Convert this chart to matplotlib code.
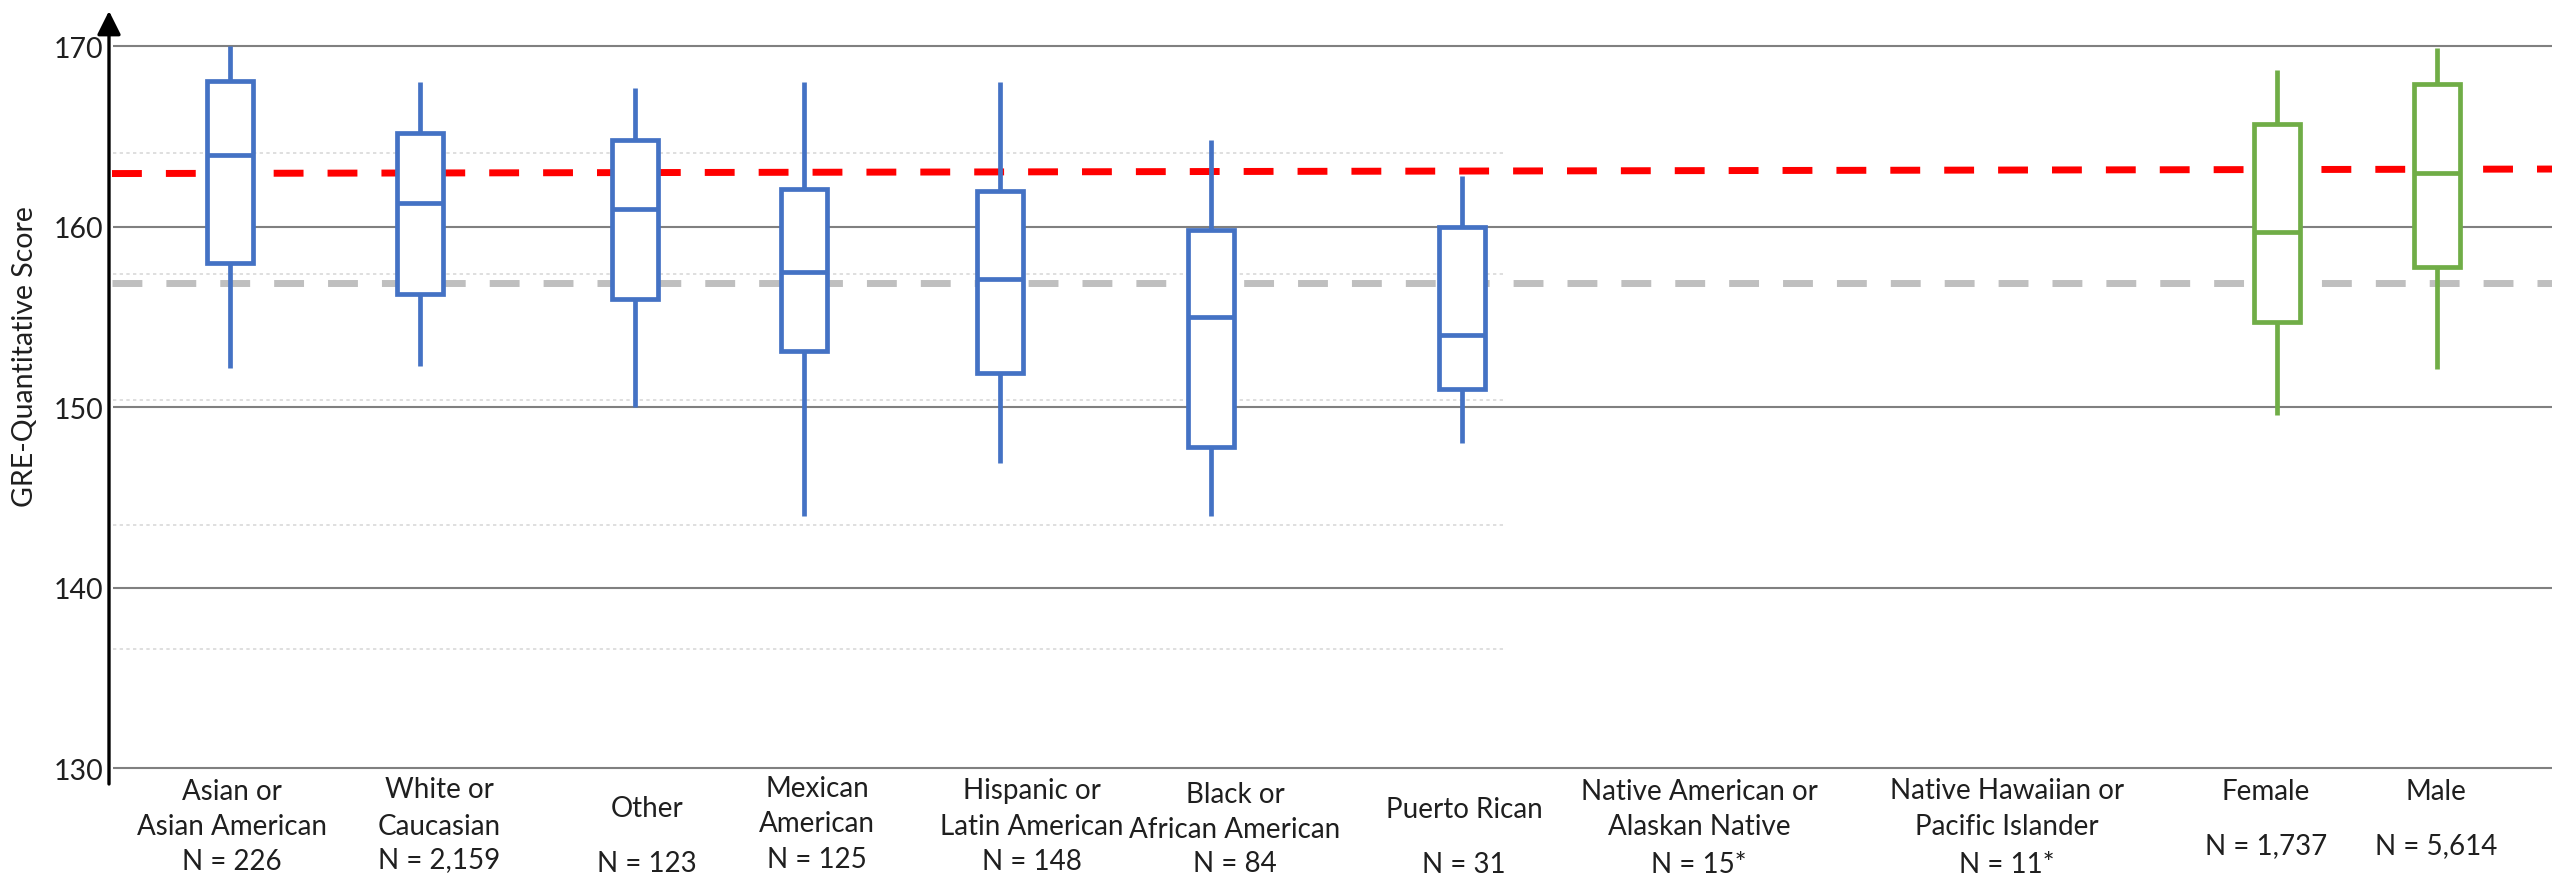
import matplotlib.pyplot as plt

# box plot values
groups = ["Asian", "White", "Other", "Mexican", "Hispanic", "Black",
          "Puerto Rican", "Female", "Male"]
whislo = [152.2, 152.3, 150.0, 144.0, 146.9, 144.0, 148.0, 149.6, 152.1]
q1 = [158.0, 156.3, 156.0, 153.1, 151.9, 147.8, 151.0, 154.7, 157.8]
med = [164.0, 161.3, 161.0, 157.5, 157.1, 155.0, 154.0, 159.7, 163.0]
q3 = [168.1, 165.2, 164.8, 162.1, 162.0, 159.8, 160.0, 165.7, 167.9]
whishi = [170.0, 168.0, 167.7, 168.0, 168.0, 164.8, 162.8, 168.7, 169.9]

# category labels (lines) under the axis
label_lines = [
    ["Asian or", "Asian American", "N = 226"],
    ["White or", "Caucasian", "N = 2,159"],
    ["Other", "N = 123"],
    ["Mexican", "American", "N = 125"],
    ["Hispanic or", "Latin American", "N = 148"],
    ["Black or", "African American", "N = 84"],
    ["Puerto Rican", "N = 31"],
    ["Native American or", "Alaskan Native", "N = 15*"],
    ["Native Hawaiian or", "Pacific Islander", "N = 11*"],
    ["Female", "N = 1,737"],
    ["Male", "N = 5,614"],
]

red_ref = [162.95, 163.2]   # red dashed reference, left / right end
grey_ref = 156.9
grid_major = [130, 140, 150, 160, 170]
grid_minor = [136.6, 143.5, 150.4, 157.4, 164.1]

# layout (pixel positions in the 2552x879 image)
W, H = 2552, 879
box_x = [230, 420, 635, 804, 1000, 1211, 1462, 2277, 2437]
box_colors = ["#4472C4"] * 7 + ["#70AD47"] * 2
label_x = [232, 439, 647, 817, 1032, 1235, 1464, 1699, 2007, 2266, 2436]
label_base = [
    [800, 835, 870], [798, 835, 868], [817, 872], [797, 832, 868],
    [799, 835, 870], [803, 838, 872], [818, 873], [800, 835, 873],
    [799, 835, 873], [800, 854], [800, 854],
]
text_color = '#1f1f1f'

plt.rcParams['font.family'] = ['Lato', 'DejaVu Sans']

fig = plt.figure(figsize=(W / 100, H / 100), dpi=100)
x0, ytop, ybot = 109, 12, 785
ax = fig.add_axes([x0 / W, (H - ybot) / H, 1 - x0 / W, (ybot - ytop) / H])
px_per_unit = 18.05
ymax = 170 + (47.3 - ytop) / px_per_unit
ymin = 170 - (ybot - 47.3) / px_per_unit
ax.set_xlim(x0, W)
ax.set_ylim(ymin, ymax)

for s in ax.spines.values():
    s.set_visible(False)
ax.set_xticks([])
ax.set_yticks(grid_major)
ax.tick_params(axis='y', length=0, labelsize=20.5, labelcolor=text_color, pad=4)

# gridlines
ax.hlines(grid_major, x0 + 4, W, color='#808080', lw=1.5, zorder=1)
ax.hlines(grid_minor, x0 + 4, 1506, color='#D9D9D9', lw=1.2,
          linestyles=(0, (2, 2)), zorder=1)

# reference lines
dash = (0, (4.3, 3.46))
ax.plot([x0 + 3, W], red_ref, color='#FF0000', lw=5.0,
        linestyle=dash, dash_capstyle='butt', zorder=3)
ax.plot([x0 + 3, W], [grey_ref, grey_ref], color='#BFBFBF', lw=5.0,
        linestyle=dash, dash_capstyle='butt', zorder=3)

# boxes
for i in range(len(groups)):
    st = dict(whislo=whislo[i], q1=q1[i], med=med[i], q3=q3[i],
              whishi=whishi[i], fliers=[], label=groups[i])
    c = box_colors[i]
    ax.bxp([st], positions=[box_x[i]], widths=46, showcaps=False,
           showfliers=False, patch_artist=True, manage_ticks=False,
           boxprops=dict(facecolor='white', edgecolor=c, linewidth=3.4,
                         zorder=4),
           whiskerprops=dict(color=c, linewidth=3.4, solid_capstyle='butt',
                             zorder=4),
           medianprops=dict(color=c, linewidth=3.4, zorder=5))

# y axis with arrow
ax.annotate('', xy=(0, 1), xytext=(0, 0), xycoords='axes fraction',
            textcoords='axes fraction',
            arrowprops=dict(arrowstyle='-|>,head_length=0.4,head_width=0.2',
                            mutation_scale=36, lw=2.4, color='black',
                            shrinkA=0, shrinkB=0))

fig.text(25 / W, (H - 357) / H, "GRE-Quantitative Score", rotation=90,
         ha='center', va='center', fontsize=20.5, color=text_color)

# category labels
for lines, lx, bases in zip(label_lines, label_x, label_base):
    for txt, b in zip(lines, bases):
        fig.text(lx / W, (H - b) / H, txt, ha='center', va='baseline',
                 fontsize=20, color=text_color)

fig.savefig("out.png", dpi=100)
